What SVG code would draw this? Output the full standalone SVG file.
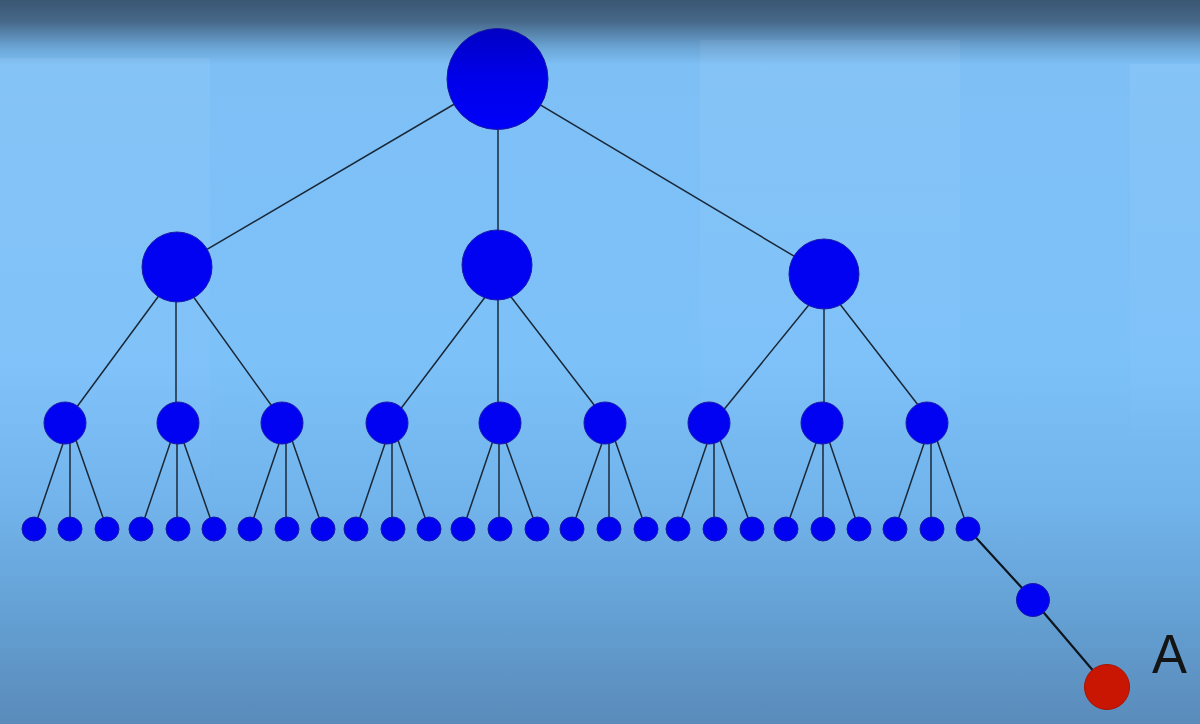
<svg xmlns="http://www.w3.org/2000/svg" width="1200" height="724" viewBox="0 0 1200 724">
  <defs>
    <linearGradient id="bg" x1="0" y1="0" x2="0" y2="1">
      <stop offset="0" stop-color="#3a5672"/>
      <stop offset="0.03" stop-color="#47698a"/>
      <stop offset="0.065" stop-color="#6aa4d4"/>
      <stop offset="0.09" stop-color="#7ec0f6"/>
      <stop offset="0.5" stop-color="#7dc1f9"/>
      <stop offset="0.7" stop-color="#71b3eb"/>
      <stop offset="0.85" stop-color="#64a0d3"/>
      <stop offset="1" stop-color="#5a8bba"/>
    </linearGradient>
    <linearGradient id="band" x1="0" y1="0" x2="0" y2="1">
      <stop offset="0" stop-color="#ffffff" stop-opacity="0.06"/>
      <stop offset="0.5" stop-color="#ffffff" stop-opacity="0.03"/>
      <stop offset="1" stop-color="#ffffff" stop-opacity="0"/>
    </linearGradient>
    <linearGradient id="rootg" x1="0" y1="0" x2="0" y2="1">
      <stop offset="0" stop-color="#0000c4"/>
      <stop offset="0.45" stop-color="#0000e8"/>
      <stop offset="1" stop-color="#0000fa"/>
    </linearGradient>
  </defs>
  <style>
    .n { fill: #0202f2; stroke: #1a1aa8; stroke-width: 1; }
    .c line { stroke: #1a2838; stroke-width: 1.5; stroke-linecap: round; }
    .c line.t { stroke: #0e1620; stroke-width: 2.2; }
    .red { fill: #c81602; stroke: #a81200; stroke-width: 1; }
    .lbl { font-family: "Liberation Sans", Arial, sans-serif; font-size: 56px; fill: #141414; }
  </style>

  <rect x="0" y="0" width="1200" height="724" fill="url(#bg)"/>
  <rect x="0" y="58" width="210" height="500" fill="url(#band)"/>
  <rect x="700" y="40" width="260" height="420" fill="url(#band)"/>
  <rect x="1130" y="64" width="70" height="400" fill="url(#band)"/>

  <g class="c" id="connectors">
    <!-- root to level 1 -->
    <line x1="497" y1="79" x2="177" y2="267"/>
    <line x1="498" y1="79" x2="498" y2="265"/>
    <line x1="497" y1="79" x2="824" y2="274"/>
    <!-- level 1 to level 2 -->
    <line x1="180" y1="267" x2="65" y2="423"/>
    <line x1="176" y1="267" x2="176" y2="423"/>
    <line x1="172" y1="267" x2="284" y2="423"/>
    <line x1="498" y1="280" x2="390" y2="423"/>
    <line x1="498" y1="265" x2="498" y2="423"/>
    <line x1="498" y1="280" x2="608" y2="423"/>
    <line x1="821" y1="290" x2="713" y2="423"/>
    <line x1="824" y1="274" x2="824" y2="423"/>
    <line x1="829" y1="290" x2="932" y2="423"/>
    <!-- level 2 to leaves -->
    <line x1="70" y1="423" x2="34" y2="529"/><line x1="70" y1="423" x2="70" y2="529"/><line x1="70" y1="423" x2="107" y2="529"/>
    <line x1="177" y1="423" x2="141" y2="529"/><line x1="177" y1="423" x2="177" y2="529"/><line x1="177" y1="423" x2="214" y2="529"/>
    <line x1="286" y1="423" x2="250" y2="529"/><line x1="286" y1="423" x2="286" y2="529"/><line x1="286" y1="423" x2="323" y2="529"/>
    <line x1="392" y1="423" x2="356" y2="529"/><line x1="392" y1="423" x2="392" y2="529"/><line x1="392" y1="423" x2="429" y2="529"/>
    <line x1="499" y1="423" x2="463" y2="529"/><line x1="499" y1="423" x2="499" y2="529"/><line x1="499" y1="423" x2="537" y2="529"/>
    <line x1="609" y1="423" x2="572" y2="529"/><line x1="609" y1="423" x2="609" y2="529"/><line x1="609" y1="423" x2="646" y2="529"/>
    <line x1="714" y1="423" x2="678" y2="529"/><line x1="714" y1="423" x2="714" y2="529"/><line x1="714" y1="423" x2="752" y2="529"/>
    <line x1="823" y1="423" x2="786" y2="529"/><line x1="823" y1="423" x2="823" y2="529"/><line x1="823" y1="423" x2="859" y2="529"/>
    <line x1="931" y1="423" x2="895" y2="529"/><line x1="931" y1="423" x2="931" y2="529"/><line x1="931" y1="423" x2="968" y2="529"/>
    <!-- tail -->
    <line class="t" x1="968" y1="529" x2="1033" y2="600"/>
    <line class="t" x1="1033" y1="600" x2="1107" y2="687"/>
  </g>

  <g id="root"><circle cx="497.5" cy="79" r="50.5" fill="url(#rootg)" stroke="#1a1aa0" stroke-width="1"/></g>

  <g id="l1-a"><circle class="n" cx="177" cy="267" r="35"/></g>
  <g id="l1-b"><circle class="n" cx="497" cy="265" r="35"/></g>
  <g id="l1-c"><circle class="n" cx="824" cy="274" r="35"/></g>

  <g id="l2-1"><circle class="n" cx="65" cy="423" r="21"/></g>
  <g id="l2-2"><circle class="n" cx="178" cy="423" r="21"/></g>
  <g id="l2-3"><circle class="n" cx="282" cy="423" r="21"/></g>
  <g id="l2-4"><circle class="n" cx="387" cy="423" r="21"/></g>
  <g id="l2-5"><circle class="n" cx="500" cy="423" r="21"/></g>
  <g id="l2-6"><circle class="n" cx="605" cy="423" r="21"/></g>
  <g id="l2-7"><circle class="n" cx="709" cy="423" r="21"/></g>
  <g id="l2-8"><circle class="n" cx="822" cy="423" r="21"/></g>
  <g id="l2-9"><circle class="n" cx="927" cy="423" r="21"/></g>

  <g id="leaf-1"><circle class="n" cx="34" cy="529" r="12"/></g>
  <g id="leaf-2"><circle class="n" cx="70" cy="529" r="12"/></g>
  <g id="leaf-3"><circle class="n" cx="107" cy="529" r="12"/></g>
  <g id="leaf-4"><circle class="n" cx="141" cy="529" r="12"/></g>
  <g id="leaf-5"><circle class="n" cx="178" cy="529" r="12"/></g>
  <g id="leaf-6"><circle class="n" cx="214" cy="529" r="12"/></g>
  <g id="leaf-7"><circle class="n" cx="250" cy="529" r="12"/></g>
  <g id="leaf-8"><circle class="n" cx="287" cy="529" r="12"/></g>
  <g id="leaf-9"><circle class="n" cx="323" cy="529" r="12"/></g>
  <g id="leaf-10"><circle class="n" cx="356" cy="529" r="12"/></g>
  <g id="leaf-11"><circle class="n" cx="393" cy="529" r="12"/></g>
  <g id="leaf-12"><circle class="n" cx="429" cy="529" r="12"/></g>
  <g id="leaf-13"><circle class="n" cx="463" cy="529" r="12"/></g>
  <g id="leaf-14"><circle class="n" cx="500" cy="529" r="12"/></g>
  <g id="leaf-15"><circle class="n" cx="537" cy="529" r="12"/></g>
  <g id="leaf-16"><circle class="n" cx="572" cy="529" r="12"/></g>
  <g id="leaf-17"><circle class="n" cx="609" cy="529" r="12"/></g>
  <g id="leaf-18"><circle class="n" cx="646" cy="529" r="12"/></g>
  <g id="leaf-19"><circle class="n" cx="678" cy="529" r="12"/></g>
  <g id="leaf-20"><circle class="n" cx="715" cy="529" r="12"/></g>
  <g id="leaf-21"><circle class="n" cx="752" cy="529" r="12"/></g>
  <g id="leaf-22"><circle class="n" cx="786" cy="529" r="12"/></g>
  <g id="leaf-23"><circle class="n" cx="823" cy="529" r="12"/></g>
  <g id="leaf-24"><circle class="n" cx="859" cy="529" r="12"/></g>
  <g id="leaf-25"><circle class="n" cx="895" cy="529" r="12"/></g>
  <g id="leaf-26"><circle class="n" cx="932" cy="529" r="12"/></g>
  <g id="leaf-27"><circle class="n" cx="968" cy="529" r="12"/></g>

  <g id="tail-mid"><circle class="n" cx="1033" cy="600" r="16.5"/></g>
  <g id="node-A">
    <circle class="red" cx="1107" cy="687" r="22.5"/>
    <text class="lbl" x="1152" y="673" textLength="35" lengthAdjust="spacingAndGlyphs">A</text>
  </g>
</svg>
